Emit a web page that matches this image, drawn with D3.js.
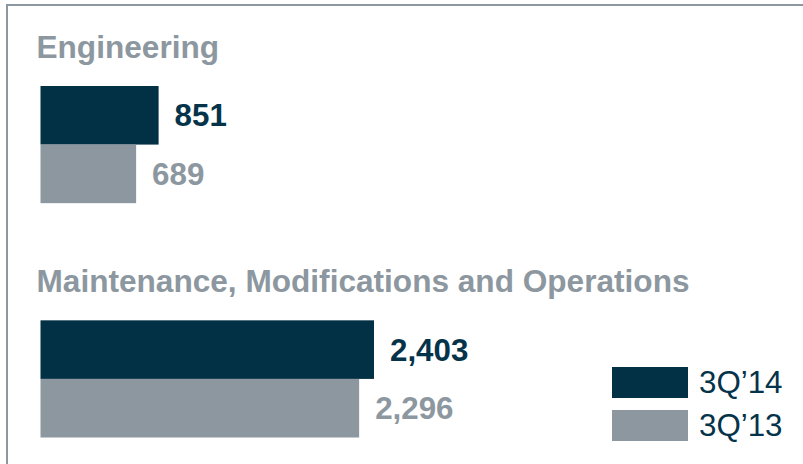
<!DOCTYPE html>
<meta charset="utf-8">
<style>

body {
  margin: 0;
  background: #fff;
}

text {
  font-family: Arial, "Liberation Sans", sans-serif;
}

.title {
  fill: #8c979f;
  font-weight: bold;
  font-size: 31.6px;
}

.value {
  font-weight: bold;
  font-size: 31.3px;
}

.legend text {
  fill: #05334a;
  font-size: 31.3px;
}

</style>
<svg width="803" height="464"></svg>
<script src="https://d3js.org/d3.v7.min.js"></script>
<script>

var categories = ["Engineering", "Maintenance, Modifications and Operations"];
var series = ["3Q\u201914", "3Q\u201913"];
var values_3q14 = [851, 2403];
var values_3q13 = [689, 2296];

var colors = ["#023045", "#8c979f"];
var labelColors = ["#05334a", "#8c979f"];

var svg = d3.select("svg"),
    width = +svg.attr("width"),
    height = +svg.attr("height");

// frame, only top and left edges show inside the picture
svg.append("rect")
    .attr("x", 7)
    .attr("y", 5)
    .attr("width", width + 20)
    .attr("height", height + 20)
    .attr("fill", "none")
    .attr("stroke", "#8c979f")
    .attr("stroke-width", 2);

var x0 = 40.5;

var x = d3.scaleLinear()
    .domain([0, 2403])
    .range([0, 333.5]);

var y0 = d3.scaleBand()
    .domain(categories)
    .range([86, 437.5])
    .paddingInner(0.5);

var y1 = d3.scaleBand()
    .domain(series)
    .range([0, y0.bandwidth()]);

var data = categories.map(function(c, i) {
  return {
    category: c,
    values: [
      {key: series[0], value: values_3q14[i], idx: 0},
      {key: series[1], value: values_3q13[i], idx: 1}
    ]
  };
});

var group = svg.selectAll(".group")
  .data(data)
  .enter().append("g")
    .attr("class", "group")
    .attr("transform", function(d) { return "translate(0," + y0(d.category) + ")"; });

group.append("text")
    .attr("class", "title")
    .attr("x", 36.5)
    .attr("y", -28)
    .text(function(d) { return d.category; });

group.selectAll("rect")
  .data(function(d) { return d.values; })
  .enter().append("rect")
    .attr("x", x0)
    .attr("y", function(d) { return y1(d.key); })
    .attr("width", function(d) { return x(d.value); })
    .attr("height", y1.bandwidth())
    .attr("fill", function(d) { return colors[d.idx]; });

group.selectAll(".value")
  .data(function(d) { return d.values; })
  .enter().append("text")
    .attr("class", "value")
    .attr("x", function(d) { return x0 + x(d.value) + 16; })
    .attr("y", function(d) { return y1(d.key) + y1.bandwidth() / 2 + 11; })
    .attr("fill", function(d) { return labelColors[d.idx]; })
    .text(function(d) { return d3.format(",")(d.value); });

var legend = svg.append("g")
    .attr("class", "legend")
    .selectAll("g")
  .data(series)
  .enter().append("g")
    .attr("transform", function(d, i) { return "translate(612," + (367 + i * 43) + ")"; });

legend.append("rect")
    .attr("width", 76)
    .attr("height", 31)
    .attr("fill", function(d, i) { return colors[i]; });

legend.append("text")
    .attr("x", 87)
    .attr("y", 26)
    .text(function(d) { return d; });

</script>
